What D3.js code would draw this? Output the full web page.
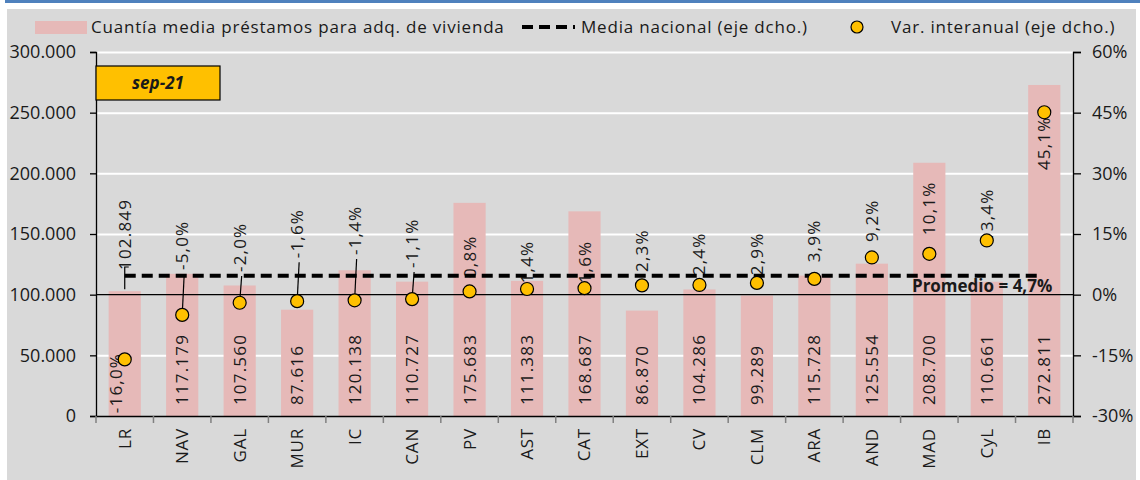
<html lang="es">

<head>
  <meta charset="UTF-8">
  <title>Cuantía media préstamos vivienda</title>
  <script src="https://d3js.org/d3.v7.min.js"></script>
</head>

<style>
  body { margin: 0; background: #fff; }
  text { font-family: "Open Sans", "Liberation Sans", sans-serif; fill: #1a1a1a; }
  .axis .domain, .axis line { stroke: #000; stroke-width: 1.3; }
  .gridlines line { stroke: #fff; stroke-width: 2; }
  .gridlines .domain { stroke: none; }
  .lbl { font-size: 17px; letter-spacing: 1.2px; }
  .legend text { font-size: 17px; letter-spacing: 0.8px; }
</style>

<body>
  <svg class="chart" width="1140" height="480"></svg>
  <script>
    // data
    const regions = ['LR', 'NAV', 'GAL', 'MUR', 'IC', 'CAN', 'PV', 'AST', 'CAT', 'EXT', 'CV', 'CLM', 'ARA', 'AND', 'MAD', 'CyL', 'IB'];
    const amounts = [102849, 117179, 107560, 87616, 120138, 110727, 175683, 111383, 168687, 86870, 104286, 99289, 115728, 125554, 208700, 110661, 272811];
    const yoy = [-16.0, -5.0, -2.0, -1.6, -1.4, -1.1, 0.8, 1.4, 1.6, 2.3, 2.4, 2.9, 3.9, 9.2, 10.1, 13.4, 45.1];
    const nationalAvg = 4.7;
    const leftTicks = [0, 50000, 100000, 150000, 200000, 250000, 300000];
    const rightTicks = [-30, -15, 0, 15, 30, 45, 60];
    // where each % label starts (right-axis units), as placed in the original
    const yoyLabelAt = [-29.3, 6.1, 5.6, 9.0, 9.8, 6.6, 4.1, 2.8, 2.8, 5.6, 4.8, 4.8, 8.0, 13.0, 14.7, 13.0, 30.8];
    const withLeader = [false, true, true, true, true, true, false, false, false, false, false, false, false, false, false, false, false];
    const dateTag = 'sep-21';

    const svg = d3.select('svg.chart');
    const margins = { top: 52, right: 67, bottom: 64, left: 96 };
    const width = +svg.attr('width');
    const height = +svg.attr('height');
    const chartWidth = width - margins.left - margins.right;
    const chartHeight = height - margins.top - margins.bottom;

    // panel frame
    svg.append('rect').attr('x', 5).attr('y', 0).attr('width', 1135).attr('height', 3).style('fill', '#4f81bd');
    svg.append('rect').attr('x', 7).attr('y', 9).attr('width', 1129).attr('height', 471).style('fill', '#d9d9d9');

    const xBand = d3.scaleBand().domain(regions).range([0, chartWidth]);
    const yLeft = d3.scaleLinear().domain([0, 300000]).range([chartHeight, 0]);
    const yRight = d3.scaleLinear().domain([-30, 60]).range([chartHeight, 0]);
    const cx = r => xBand(r) + xBand.bandwidth() / 2;
    const barW = xBand.bandwidth() * 0.56;

    const chartArea = svg.append('g').attr('transform', `translate(${margins.left},${margins.top})`);

    chartArea.append('g')
      .attr('class', 'gridlines')
      .call(d3.axisLeft(yLeft).tickValues(leftTicks.filter(v => v > 0 && v !== 100000)).tickSize(-chartWidth).tickFormat(''));

    // bars
    chartArea.selectAll('rect.bar')
      .data(regions)
      .join('rect')
      .attr('class', 'bar')
      .attr('x', d => cx(d) - barW / 2)
      .attr('width', barW)
      .attr('y', (d, i) => yLeft(amounts[i]))
      .attr('height', (d, i) => chartHeight - yLeft(amounts[i]))
      .style('fill', '#e6b9b8');

    // zero line of the right axis
    chartArea.append('line')
      .attr('x1', 0).attr('x2', chartWidth)
      .attr('y1', yRight(0)).attr('y2', yRight(0))
      .style('stroke', '#000').style('stroke-width', 1.3);

    const fmtAmount = d3.formatLocale({ decimal: ',', thousands: '.', grouping: [3], currency: ['', '€'] }).format(',d');
    const fmtPct = v => v.toFixed(1).replace('.', ',') + '%';

    // amount labels (LR has its label lifted above the bar)
    regions.forEach((r, i) => {
      const base = i === 0 ? yRight(6.1) : yLeft(9000);
      chartArea.append('text')
        .attr('class', 'lbl')
        .attr('transform', `translate(${cx(r) + 6},${base}) rotate(-90)`)
        .text(fmtAmount(amounts[i]));
    });
    // LR leader
    chartArea.append('path')
      .attr('d', `M${cx('LR')},${yLeft(amounts[0]) - 2} V${yRight(6.1) - 3} h4`)
      .style('fill', 'none').style('stroke', '#000').style('stroke-width', 1.2);

    // % labels
    regions.forEach((r, i) => {
      const bx = i === 0 ? cx(r) - 3 : cx(r) + 6;
      chartArea.append('text')
        .attr('class', 'lbl')
        .attr('transform', `translate(${bx},${yRight(yoyLabelAt[i])}) rotate(-90)`)
        .text(fmtPct(yoy[i]));
      if (withLeader[i]) {
        chartArea.append('line')
          .attr('x1', cx(r)).attr('y1', yRight(yoy[i]))
          .attr('x2', cx(r) + 2).attr('y2', yRight(yoyLabelAt[i]) + 4)
          .style('stroke', '#000').style('stroke-width', 1.2);
      }
    });

    // national average
    chartArea.append('line')
      .attr('x1', cx(regions[0])).attr('x2', cx(regions[regions.length - 1]) - 3)
      .attr('y1', yRight(nationalAvg)).attr('y2', yRight(nationalAvg))
      .style('stroke', '#000').style('stroke-width', 4)
      .style('stroke-dasharray', '11,6');
    chartArea.append('text')
      .attr('x', cx(regions[regions.length - 1]) + 8)
      .attr('y', yRight(nationalAvg) + 16)
      .attr('text-anchor', 'end')
      .style('font-size', '17px').style('font-weight', 'bold')
      .text('Promedio = ' + fmtPct(nationalAvg));

    // yoy dots
    chartArea.selectAll('circle.dot')
      .data(regions)
      .join('circle')
      .attr('class', 'dot')
      .attr('cx', d => cx(d))
      .attr('cy', (d, i) => yRight(yoy[i]))
      .attr('r', 6.5)
      .style('fill', '#ffc000').style('stroke', '#000').style('stroke-width', 1.2);

    // axes
    const leftAxis = chartArea.append('g')
      .attr('class', 'axis')
      .call(d3.axisLeft(yLeft).tickValues(leftTicks).tickSize(6).tickPadding(14).tickFormat(fmtAmount));
    leftAxis.selectAll('text').style('font-size', '18px').style('fill', '#1a1a1a');

    const rightAxis = chartArea.append('g')
      .attr('class', 'axis')
      .attr('transform', `translate(${chartWidth},0)`)
      .call(d3.axisRight(yRight).tickValues(rightTicks).tickSize(8).tickPadding(11).tickFormat(d => d + '%'));
    rightAxis.selectAll('text').style('font-size', '18px').style('fill', '#1a1a1a');

    const bottomAxis = chartArea.append('g')
      .attr('class', 'axis')
      .attr('transform', `translate(0,${chartHeight})`)
      .call(d3.axisBottom(xBand).tickSize(0).tickPadding(0));
    bottomAxis.selectAll('text')
      .attr('transform', 'rotate(-90)')
      .attr('x', -12).attr('y', 0).attr('dy', '0.35em')
      .attr('text-anchor', 'end')
      .style('font-size', '17px').style('letter-spacing', '0.8px').style('fill', '#1a1a1a');
    // category separators
    bottomAxis.selectAll('line.sep')
      .data(regions.concat(['end']))
      .join('line')
      .attr('class', 'sep')
      .attr('x1', (d, i) => i * xBand.bandwidth()).attr('x2', (d, i) => i * xBand.bandwidth())
      .attr('y1', 0).attr('y2', 7)
      .style('stroke', '#808080').style('stroke-width', 1.5);

    // date tag
    svg.append('rect').attr('x', 96).attr('y', 66).attr('width', 124).attr('height', 34)
      .style('fill', '#ffc000').style('stroke', '#000').style('stroke-width', 1.2);
    svg.append('text').attr('x', 158).attr('y', 89).attr('text-anchor', 'middle')
      .style('font-size', '17px').style('font-weight', 'bold').style('font-style', 'italic')
      .text(dateTag);

    // legend
    const legend = svg.append('g').attr('class', 'legend');
    legend.append('rect').attr('x', 35).attr('y', 21).attr('width', 52).attr('height', 13).style('fill', '#e6b9b8');
    legend.append('text').attr('x', 91).attr('y', 33).text('Cuantía media préstamos para adq. de vivienda');
    legend.append('line').attr('x1', 522).attr('x2', 575).attr('y1', 27).attr('y2', 27)
      .style('stroke', '#000').style('stroke-width', 4).style('stroke-dasharray', '11,6');
    legend.append('text').attr('x', 581).attr('y', 33).text('Media nacional (eje dcho.)');
    legend.append('circle').attr('cx', 857).attr('cy', 27).attr('r', 6)
      .style('fill', '#ffc000').style('stroke', '#000').style('stroke-width', 1.2);
    legend.append('text').attr('x', 891).attr('y', 33).text('Var. interanual (eje dcho.)');
  </script>
</body>

</html>
